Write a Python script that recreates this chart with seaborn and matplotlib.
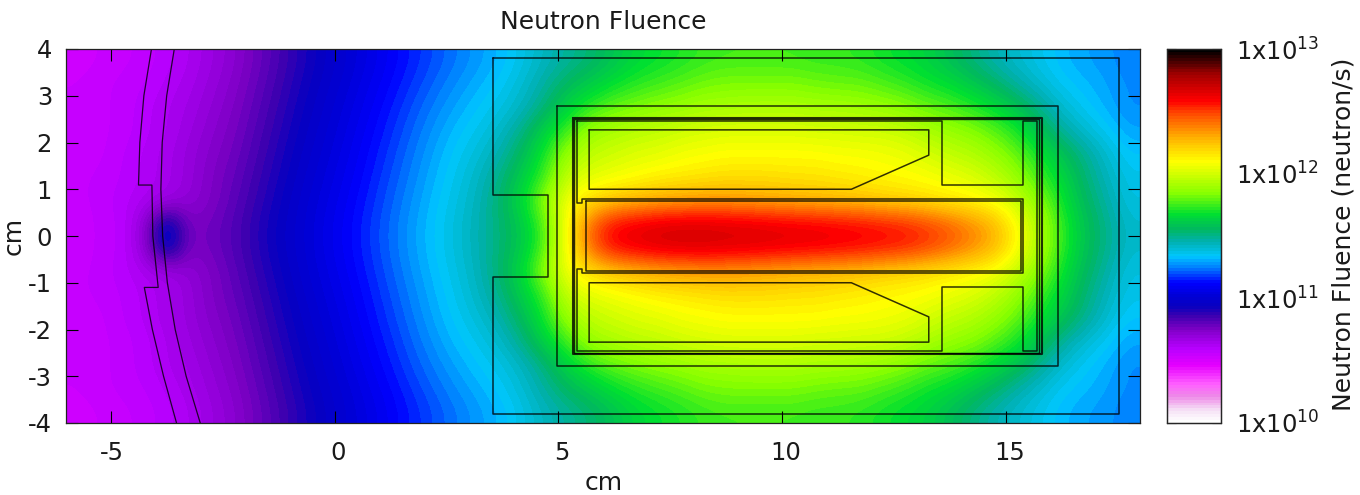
import numpy as np
import pandas as pd
import matplotlib
matplotlib.use("Agg")
import matplotlib.pyplot as plt
from matplotlib.colors import LinearSegmentedColormap
from matplotlib.transforms import ScaledTranslation
import seaborn as sns

# cell centres of the map, cm
x_centres = [-5.75 + 0.5 * i for i in range(48)]
y_upper = [3.75, 3.25, 2.75, 2.25, 1.75, 1.25, 0.75, 0.25]

# fluence, as position on the log colour bar (0 = 1e10, 1 = 1e13)
row_375 = [.175,.18,.185,.19,.20,.21,.225,.24,.26,.28,.30,.318,.335,.352,.369,.385,.40,.414,
           .427,.44,.46,.48,.495,.51,.53,.55,.56,.57,.58,.585,.585,.585,.585,.58,.58,.575,.565,.555,.545,.525,.505,.485,.47,.455,.44,.43,.425,.415]
row_325 = [.18,.185,.19,.195,.205,.215,.23,.245,.265,.285,.305,.323,.34,.358,.375,.392,.408,.423,
           .436,.45,.47,.495,.52,.54,.56,.575,.585,.595,.605,.61,.61,.61,.61,.605,.60,.60,.59,.58,.565,.555,.535,.515,.49,.47,.45,.44,.43,.42]
row_275 = [.18,.185,.19,.20,.21,.22,.235,.25,.27,.29,.31,.328,.346,.364,.382,.40,.417,.432,
           .446,.46,.48,.51,.55,.58,.60,.61,.62,.625,.635,.635,.64,.64,.64,.635,.635,.63,.625,.615,.60,.59,.575,.555,.53,.50,.47,.45,.435,.42]
row_225 = [.18,.185,.19,.20,.21,.225,.24,.255,.275,.295,.315,.333,.351,.37,.388,.407,.425,.442,
           .456,.475,.505,.55,.59,.63,.64,.65,.655,.665,.67,.675,.675,.675,.675,.67,.67,.665,.665,.655,.64,.625,.615,.595,.57,.53,.495,.47,.45,.43]
row_175 = [.18,.185,.195,.205,.215,.23,.245,.26,.28,.30,.32,.338,.356,.375,.394,.413,.432,.45,
           .467,.49,.525,.575,.63,.655,.665,.675,.68,.69,.695,.70,.70,.70,.70,.70,.695,.695,.69,.685,.67,.655,.645,.625,.60,.565,.53,.50,.47,.445]
row_125 = [.185,.19,.195,.205,.215,.23,.25,.265,.285,.305,.325,.343,.361,.38,.399,.418,.437,.456,
           .477,.505,.545,.59,.665,.68,.69,.70,.71,.715,.72,.725,.725,.725,.72,.72,.715,.71,.705,.70,.695,.685,.675,.655,.625,.585,.55,.51,.48,.455]
row_075 = [.185,.19,.20,.21,.22,.235,.25,.27,.29,.31,.33,.348,.366,.385,.404,.423,.442,.461,
           .482,.515,.56,.63,.695,.73,.75,.76,.77,.775,.78,.78,.775,.77,.765,.76,.755,.75,.74,.735,.725,.715,.705,.69,.66,.615,.565,.52,.49,.46]
row_025 = [.18,.19,.195,.23,.345,.25,.26,.275,.295,.315,.333,.352,.37,.389,.408,.427,.446,.465,
           .485,.51,.54,.60,.71,.815,.865,.878,.888,.892,.892,.888,.886,.882,.878,.875,.87,.865,.858,.85,.835,.815,.79,.76,.70,.64,.58,.53,.50,.47]

# palette stops of the colour bar
cbar_stops = [0, .03, .07, .10, .15, .196, .25, .285, .31, .34, .375, .415, .445, .485, .517, .56, .615, .70, .766, .825, .865, .935, 1]
cbar_colors = ["#ffffff", "#f5e0f5", "#ee88e8", "#ff60ff", "#e600ff", "#b800ff", "#7c00c4", "#3c00b0", "#0800c0",
               "#0000d8", "#0000ff", "#0080ff", "#00c8ff", "#00b0b0", "#00b860", "#00e030", "#88ff00",
               "#ffff00", "#ffb000", "#ff5000", "#ff0000", "#a00000", "#000000"]

# geometry outlines, cm
outer_x = [3.55, 17.53, 17.53, 3.55, 3.55, 4.76, 4.76, 3.55, 3.55]
outer_y = [3.8, 3.8, -3.8, -3.8, -.88, -.88, .88, .88, 3.8]
shield_x = [4.97, 16.16, 16.16, 4.97, 4.97]
shield_y = [2.78, 2.78, -2.79, -2.79, 2.78]
wall_x = [5.32, 15.8, 15.8, 5.32, 5.32]
wall_y = [2.53, 2.53, -2.53, -2.53, 2.53]
wall_in_x = [5.36, 15.74, 15.74, 5.36, 5.36]
wall_in_y = [2.5, 2.5, -2.5, -2.5, 2.5]
case_x = [5.41, 13.58, 13.58, 15.39, 15.39, 15.69, 15.69, 15.39, 15.39, 13.58, 13.58, 5.41, 5.41, 5.54, 5.54, 15.39, 15.39, 5.54, 5.54, 5.41, 5.41]
case_y = [2.47, 2.47, 1.09, 1.09, 2.47, 2.47, -2.47, -2.47, -1.09, -1.09, -2.47, -2.47, -.70, -.70, -.80, -.80, .80, .80, .70, .70, 2.47]
core_x = [5.61, 15.35, 15.35, 5.61, 5.61]
core_y = [.74, .74, -.74, -.74, .74]
chamber_x = [5.69, 13.28, 13.28, 11.55, 5.69, 5.69]
chamber_top_y = [2.27, 2.27, 1.73, 1.0, 1.0, 2.27]
chamber_low_y = [-2.27, -2.27, -1.73, -1.0, -1.0, -2.27]
arc_out_x = [-3.58, -3.75, -3.85, -3.88, -3.84, -3.735, -3.56, -3.315, -3.0]
arc_out_y = [4, 3, 2, 1, 0, -1, -2, -3, -4]
arc_in_x = [-4.09, -4.26, -4.35, -4.38, -4.08, -4.06, -3.94, -4.25, -4.07, -3.82, -3.53]
arc_in_y = [4, 3, 2, 1.09, 1.09, 0, -1.1, -1.1, -2, -3, -4]

x_ticks = [-5, 0, 5, 10, 15]
y_ticks = [-4, -3, -2, -1, 0, 1, 2, 3, 4]
cbar_decades = [10, 11, 12, 13]
FS = 18
TICK_FS = 17.5

sns.set_style("ticks")
plt.rcParams["text.color"] = "#1a1a1a"
plt.rcParams["axes.labelcolor"] = "#1a1a1a"
plt.rcParams["xtick.labelcolor"] = "#1a1a1a"
plt.rcParams["ytick.labelcolor"] = "#1a1a1a"

upper = [row_375, row_325, row_275, row_225, row_175, row_125, row_075, row_025]
levels = np.array(upper + upper[::-1])
y_all = y_upper + [-v for v in y_upper[::-1]]
df = pd.DataFrame(10 + 3 * levels, index=y_all, columns=x_centres)

W, H = 1360, 495
fig = plt.figure(figsize=(W / 100, H / 100), dpi=100)
pos = [66 / W, 1 - 423 / H, (1140 - 66) / W, (423 - 49) / H]
ax = fig.add_axes(pos)
cax = fig.add_axes([1167 / W, 1 - 423 / H, 54 / W, (423 - 49) / H])

cmap = LinearSegmentedColormap.from_list("fluence", list(zip(cbar_stops, cbar_colors)), N=128)
sns.heatmap(df, ax=ax, cbar_ax=cax, cmap=cmap, vmin=10, vmax=13,
            xticklabels=False, yticklabels=False)
# same table again, smoothed at draw time (above the mesh)
ax.imshow(df.values, extent=(0, 48, 16, 0), cmap=cmap, vmin=10, vmax=13,
          aspect="auto", interpolation="bicubic", interpolation_stage="data", zorder=2)
ax.set_xlim(0, 48)
ax.set_ylim(16, 0)
ax.set_axis_off()

# cm axis on top of the map
geo = fig.add_axes(pos, facecolor="none")
geo.set_xlim(-6, 18)
geo.set_ylim(-4, 4)
for xs, ys, lw in [(outer_x, outer_y, 1.1), (shield_x, shield_y, 1.1), (wall_x, wall_y, 1.5),
                   (wall_in_x, wall_in_y, 1.0), (case_x, case_y, 1.1), (core_x, core_y, 1.1),
                   (chamber_x, chamber_top_y, 1.1), (chamber_x, chamber_low_y, 1.1),
                   (arc_out_x, arc_out_y, 0.9), (arc_in_x, arc_in_y, 0.9)]:
    sns.lineplot(x=xs, y=ys, ax=geo, color="black", linewidth=lw, sort=False,
                 estimator=None, legend=False, alpha=0.8)
geo.set_xticks(x_ticks)
geo.set_yticks(y_ticks)
geo.tick_params(which="major", direction="in", length=8.6, width=0.8, color="black",
                labelsize=TICK_FS, top=True, right=True)
geo.tick_params(axis="x", pad=13)
geo.tick_params(axis="y", pad=10)
for s in geo.spines.values():
    s.set_visible(True)
    s.set_linewidth(0.9)
    s.set_color("#222222")
geo.set_xticklabels([str(v) for v in x_ticks])
geo.set_yticklabels([str(v) for v in y_ticks])
# gnuplot puts the x labels a little to the right of their ticks
for lbl, v in zip(geo.get_xticklabels(), x_ticks):
    dx = 1 if v < 0 else 4
    lbl.set_transform(lbl.get_transform() + ScaledTranslation(dx / 100, 0, fig.dpi_scale_trans))
geo.set_xlabel("cm", fontsize=FS)
geo.xaxis.set_label_coords((604 - 66) / (1140 - 66), -(471 - 423) / (423 - 49))
geo.set_ylabel("cm", fontsize=FS)
geo.yaxis.set_label_coords(-(66 - 26) / (1140 - 66), 0.5)
geo.set_title("Neutron Fluence", fontsize=FS, pad=14.7, x=(603 - 66) / (1140 - 66))

# colour bar
cax.set_yticks(cbar_decades)
cax.set_yticklabels([rf"1x10$^{{{d}}}$" for d in cbar_decades], fontsize=TICK_FS)
minor = [d + np.log10(m) for d in cbar_decades[:-1] for m in range(2, 10)]
cax.set_yticks(minor, minor=True)
cax.tick_params(which="major", direction="in", length=6.5, width=0.8, left=True, right=True, pad=10.5)
cax.tick_params(which="minor", direction="in", length=3.2, width=0.7, left=True, right=True)
cax.yaxis.set_label_position("right")
cax.set_ylabel("Neutron Fluence (neutron/s)", fontsize=FS)
cax.yaxis.set_label_coords((1331 - 1167) / 54, 0.505)
for s in cax.spines.values():
    s.set_visible(True)
    s.set_linewidth(0.9)

fig.savefig("out.png", dpi=100)
